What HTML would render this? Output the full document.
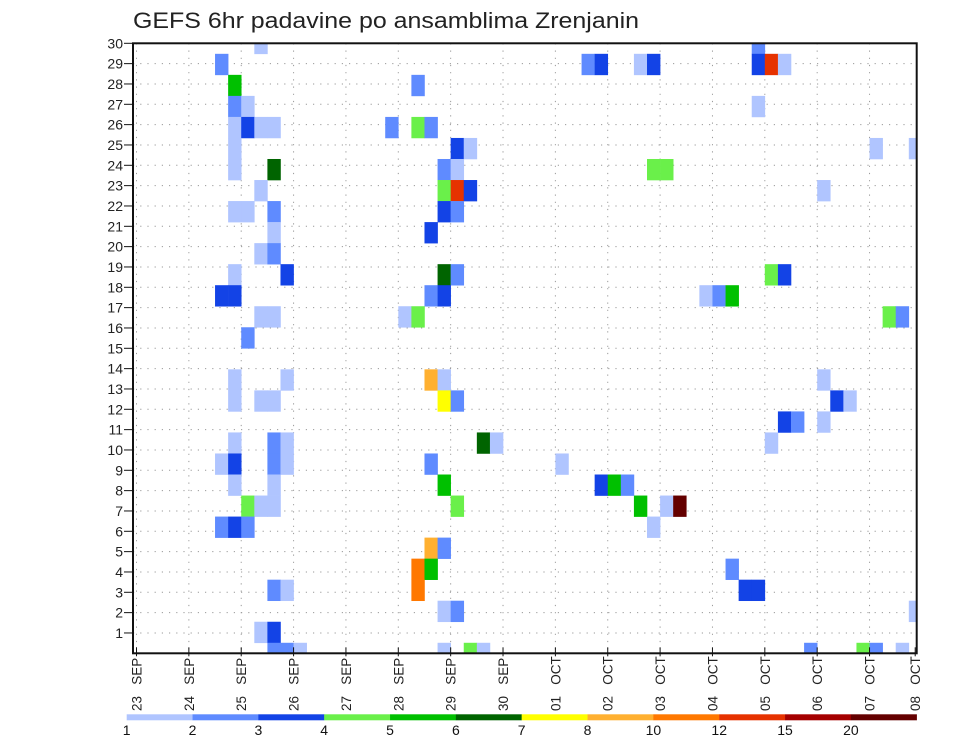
<!DOCTYPE html>
<html><head><meta charset="utf-8"><style>
html,body{margin:0;padding:0;background:#fff;}
svg{display:block;font-family:"Liberation Sans",sans-serif;}
</style></head><body>
<svg id="chart" width="960" height="742" viewBox="0 0 960 742" xmlns="http://www.w3.org/2000/svg">
<text x="133" y="28" font-size="22" fill="#222" textLength="506" lengthAdjust="spacingAndGlyphs">GEFS 6hr padavine po ansamblima Zrenjanin</text>
<defs><clipPath id="plotclip"><rect x="133" y="43.3" width="783.7" height="610"/></clipPath></defs>
<g id="grid"></g>
<g id="cells" clip-path="url(#plotclip)"></g>
<rect x="133" y="43.3" width="783.7" height="610" fill="none" stroke="#111" stroke-width="2"/>
<g id="yaxis"></g>
<g id="xaxis"></g>
<g id="legend"></g>
</svg>
<script>
// data
const dateLabels = ["23 SEP","24 SEP","25 SEP","26 SEP","27 SEP","28 SEP","29 SEP","30 SEP","01 OCT","02 OCT","03 OCT","04 OCT","05 OCT","06 OCT","07 OCT","08 OCT"];
const memberTicks = [1,2,3,4,5,6,7,8,9,10,11,12,13,14,15,16,17,18,19,20,21,22,23,24,25,26,27,28,29,30];
const levels = [1,2,3,4,5,6,7,8,10,12,15,20];
const levelColors = ["#b0c5ff","#5f8bff","#1343e6","#6af04a","#00c000","#006400","#ffff00","#ffb030","#ff7800","#e63200","#a50000","#640000"];
// cells: time step (6h index), member row, precipitation value
const cellSteps = [9,47, 6,34,35,38,39,47,48,49, 7,21, 7,8,47, 7,8,9,10,19,21,22, 7,24,25,56,59, 7,10,23,24,39,40, 9,23,24,25,52, 7,8,10,23,24, 10,22, 9,10, 7,11,23,24,48,49, 6,7,22,23,43,44,45, 9,10,20,21,57,58, 8, 7,11,22,23,52, 7,9,10,23,24,53,54, 49,50,52, 7,10,11,26,27,48, 6,7,10,11,22,32, 7,10,23,35,36,37, 8,9,10,24,38,40,41, 6,7,8,39, 22,23, 21,22,45, 10,11,21,46,47, 23,24,59, 9,10, 10,11,12,23,25,26,51,55,56,58];
const cellMembers = [29,29, 28,28,28,28,28,28,28,28, 27,27, 26,26,26, 25,25,25,25,25,25,25, 24,24,24,24,24, 23,23,23,23,23,23, 22,22,22,22,22, 21,21,21,21,21, 20,20, 19,19, 18,18,18,18,18,18, 17,17,17,17,17,17,17, 16,16,16,16,16,16, 15, 13,13,13,13,13, 12,12,12,12,12,12,12, 11,11,11, 10,10,10,10,10,10, 9,9,9,9,9,9, 8,8,8,8,8,8, 7,7,7,7,7,7,7, 6,6,6,6, 5,5, 4,4,4, 3,3,3,3,3, 2,2,2, 1,1, 0,0,0,0,0,0,0,0,0,0];
const cellValues = [1.5,2.5, 2.5,2.5,3.5,1.5,3.5,3.5,13,1.5, 5.5,2.5, 2.5,1.5,1.5, 1.5,3.5,1.5,1.5,2.5,4.5,2.5, 1.5,3.5,1.5,1.5,1.5, 1.5,6.5,2.5,1.5,4.5,4.5, 1.5,4.5,13,3.5,1.5, 1.5,1.5,2.5,3.5,2.5, 1.5,3.5, 1.5,2.5, 1.5,3.5,6.5,2.5,4.5,3.5, 3.5,3.5,2.5,3.5,1.5,2.5,5.5, 1.5,1.5,1.5,4.5,4.5,2.5, 2.5, 1.5,1.5,9,1.5,1.5, 1.5,1.5,1.5,7.5,2.5,3.5,1.5, 3.5,2.5,1.5, 1.5,2.5,1.5,6.5,1.5,1.5, 1.5,3.5,2.5,1.5,2.5,1.5, 1.5,1.5,5.5,3.5,5.5,2.5, 4.5,1.5,1.5,4.5,5.5,1.5,25, 2.5,3.5,2.5,1.5, 9,2.5, 11,5.5,2.5, 2.5,1.5,11,3.5,3.5, 1.5,2.5,1.5, 1.5,3.5, 2.5,2.5,1.5,1.5,4.5,1.5,2.5,4.5,2.5,1.5];

const NS = "http://www.w3.org/2000/svg";
const X0 = 136.5, DAY = 52.36, STEP = DAY/4, XR = 916.7;
const YB = 653.3, YT = 43.3;
function xDay(d){ return X0 + d*DAY; }
function xStep(k){ return X0 + k*STEP; }
const ROWH = (YB-YT)/29;
function yMember(j){ return YB - j*ROWH; }
const TICKH = (YB-YT)/30;
function yTick(v){ return YB - v*TICKH; }
function colorFor(v){ let c=levelColors[0]; for(let i=0;i<levels.length;i++){ if(v>=levels[i]) c=levelColors[i]; } return c; }
function mk(tag, attrs, parent){ const e=document.createElementNS(NS,tag); for(const a in attrs) e.setAttribute(a,attrs[a]); parent.appendChild(e); return e; }

const grid=document.getElementById('grid');
memberTicks.forEach(v=>{
  const l=mk('line',{x1:133,x2:XR,y1:yTick(v),y2:yTick(v),stroke:'#999','stroke-width':1,'stroke-dasharray':'1.2,6'},grid);
  
  
});
dateLabels.forEach((s,d)=>{
  const x=xDay(d); if(x>XR-2) return;
  const l=mk('line',{x1:x,x2:x,y1:YT,y2:YB,stroke:'#999','stroke-width':1,'stroke-dasharray':'1.2,6'},grid);
  
  
});

const cells=document.getElementById('cells');
for(let i=0;i<cellSteps.length;i++){
  const k=cellSteps[i], j=cellMembers[i];
  const r=mk('rect',{x:xStep(k),y:yMember(j)-ROWH/2,width:STEP+0.3,height:ROWH+0.3,fill:colorFor(cellValues[i])},cells);
  
  
}

const ya=document.getElementById('yaxis');
memberTicks.forEach(v=>{
  const y=yTick(v);
  const t=mk('line',{x1:124,x2:133,y1:y,y2:y,stroke:'#111','stroke-width':1},ya);
  
  
  const tx=mk('text',{x:123,y:y+5,'font-size':14,'text-anchor':'end',fill:'#222'},ya);
  tx.textContent=v;
  
  
});

const xa=document.getElementById('xaxis');
dateLabels.forEach((s,d)=>{
  let x=xDay(d); if(x>XR) x=XR-1.5;
  const t=mk('line',{x1:x,x2:x,y1:YB-6,y2:YB+3,stroke:'#111','stroke-width':1},xa);
  
  
  const parts=s.split(' ');
  const tx=mk('text',{x:0,y:0,'font-size':13.5,fill:'#222',transform:'translate('+(x+5)+',711) rotate(-90)'},xa);
  tx.textContent=parts[0]+'\u00a0\u00a0\u00a0'+parts[1];
  
  
});

const lg=document.getElementById('legend');
const LX0=126.7, LW=(916.7-126.7)/levels.length;
levels.forEach((lv,i)=>{
  const r=mk('rect',{x:LX0+i*LW,y:714.3,width:LW+0.2,height:6,fill:levelColors[i]},lg);
  
  
  const t=mk('text',{x:LX0+i*LW,y:735,'font-size':14,'text-anchor':'middle',fill:'#111'},lg);
  t.textContent=lv;
  
  
});
</script>
</body></html>
